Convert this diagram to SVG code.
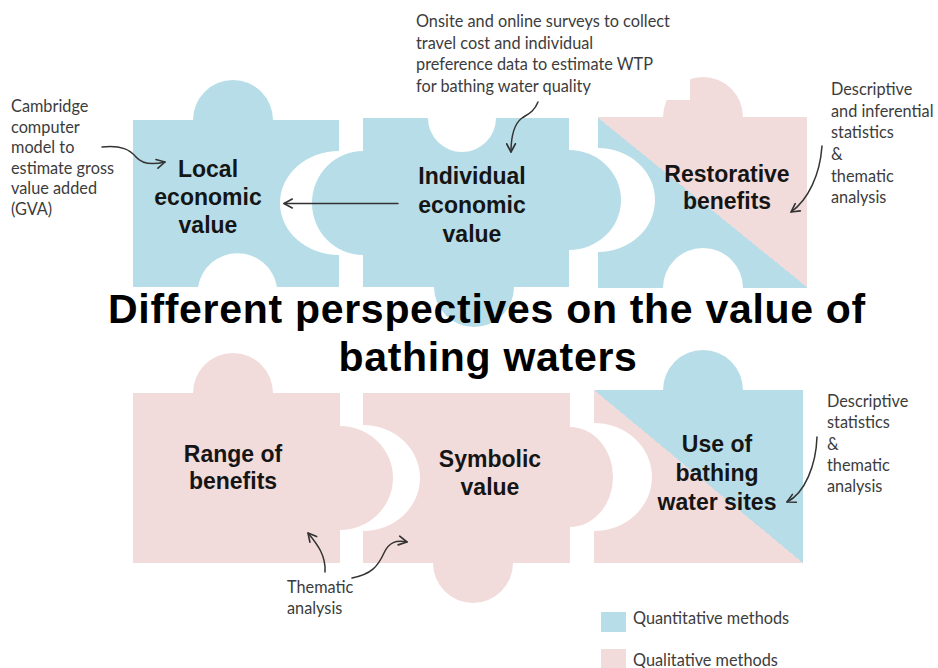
<svg xmlns="http://www.w3.org/2000/svg" width="938" height="668" viewBox="0 0 938 668">
  <style>
    .quant { fill: #b7dee8; }
    .qual { fill: #f2dcdb; }
    .label { font-family: "Liberation Sans", Arial, sans-serif; font-weight: bold; font-size: 23px; fill: #151515; text-anchor: middle; }
    .title { font-family: "Liberation Sans", Arial, sans-serif; font-weight: bold; font-size: 41px; fill: #000; text-anchor: middle; letter-spacing: 0.7px; }
    .note { font-family: Lato, "Open Sans", sans-serif; font-size: 16.3px; fill: #3c3c3c; }
    .arrow { fill: none; stroke: #333; stroke-width: 1.5; stroke-linecap: round; marker-end: url(#chevron); }
  </style>
  <defs>
    <marker id="chevron" viewBox="0 0 10 10" refX="9" refY="5" markerWidth="11" markerHeight="11" markerUnits="userSpaceOnUse" orient="auto">
      <path d="M1.5,1 L9,5 L1.5,9" fill="none" stroke="#333" stroke-width="1.5" stroke-linecap="round" stroke-linejoin="round"/>
    </marker>
    <!-- hard-edged split along the diagonal of the two mixed pieces -->
    <linearGradient id="splitRestorative" gradientUnits="userSpaceOnUse" x1="617" y1="308" x2="788" y2="97">
      <stop offset="0" stop-color="#b7dee8"/>
      <stop offset="0.5" stop-color="#b7dee8"/>
      <stop offset="0.5" stop-color="#f2dcdb"/>
      <stop offset="1" stop-color="#f2dcdb"/>
    </linearGradient>
    <linearGradient id="splitUse" gradientUnits="userSpaceOnUse" x1="612" y1="581" x2="785" y2="372">
      <stop offset="0" stop-color="#f2dcdb"/>
      <stop offset="0.5" stop-color="#f2dcdb"/>
      <stop offset="0.5" stop-color="#b7dee8"/>
      <stop offset="1" stop-color="#b7dee8"/>
    </linearGradient>
  </defs>

  <rect width="938" height="668" fill="#fff"/>

  <!-- top row of puzzle pieces -->
  <g id="local-economic-value">
    <path class="quant" d="M133,120 H193 A40,40 0 1 1 273,120 H339 V151 A59,52 0 0 0 339,255 V287 H277 A40,40 0 0 0 198,287 H133 Z"/>
    <text class="label"><tspan x="208" y="177">Local</tspan><tspan x="208" y="205">economic</tspan><tspan x="208" y="233">value</tspan></text>
  </g>

  <g id="individual-economic-value">
    <path class="quant" d="M363,118 H428 A34,34 0 0 0 496,118 H569 V150 A52,50 0 0 1 569,250 V287 H514 A40,40 0 0 1 434,287 H363 V255 A51,52 0 0 1 363,151 Z"/>
    <text class="label"><tspan x="472" y="184">Individual</tspan><tspan x="472" y="213">economic</tspan><tspan x="472" y="242">value</tspan></text>
  </g>

  <g id="restorative-benefits">
    <path fill="url(#splitRestorative)" d="M598,117 H663 A40,40 0 1 1 743,117 H807 V288 H743 A40,40 0 0 0 663,288 H598 V252 A57,52 0 0 0 598,148 Z"/>
    <text class="label"><tspan x="727" y="182">Restorative</tspan><tspan x="727" y="209">benefits</tspan></text>
  </g>

  <!-- bottom row of puzzle pieces -->
  <g id="range-of-benefits">
    <path class="qual" d="M133,393 H193 A40,40 0 1 1 273,393 H340 V426 A53,52 0 0 1 340,530 V563 H133 Z"/>
    <text class="label"><tspan x="233" y="462">Range of</tspan><tspan x="233" y="489">benefits</tspan></text>
  </g>

  <g id="symbolic-value">
    <path class="qual" d="M363,393 H570 V427 A43,50 0 0 1 570,527 V563 H513 A40,40 0 1 1 433,563 H363 V531 A57,53 0 0 0 363,425 Z"/>
    <text class="label"><tspan x="490" y="467">Symbolic</tspan><tspan x="490" y="495">value</tspan></text>
  </g>

  <g id="use-of-bathing-water-sites">
    <path fill="url(#splitUse)" d="M594,390 H663 A40,40 0 1 1 743,390 H803 V563 H594 V531 A58,54 0 0 0 594,423 Z"/>
    <text class="label"><tspan x="717" y="452">Use of</tspan><tspan x="717" y="481">bathing</tspan><tspan x="717" y="510">water sites</tspan></text>
  </g>

  <!-- heading across the middle -->
  <g id="title">
    <text class="title"><tspan x="487" y="323">Different perspectives on the value of</tspan><tspan x="488" y="371">bathing waters</tspan></text>
  </g>

  <!-- method notes -->
  <g id="note-gva">
    <text class="note"><tspan x="11" y="112">Cambridge</tspan><tspan x="11" y="133">computer</tspan><tspan x="11" y="153">model to</tspan><tspan x="11" y="174">estimate gross</tspan><tspan x="11" y="194">value added</tspan><tspan x="11" y="215">(GVA)</tspan></text>
  </g>

  <g id="note-surveys">
    <rect x="405" y="0" width="285" height="100" fill="#fff"/>
    <text class="note"><tspan x="416" y="27">Onsite and online surveys to collect</tspan><tspan x="416" y="48.5">travel cost and individual</tspan><tspan x="416" y="70">preference data to estimate WTP</tspan><tspan x="416" y="91.5">for bathing water quality</tspan></text>
  </g>

  <g id="note-restorative">
    <text class="note"><tspan x="831" y="95">Descriptive</tspan><tspan x="831" y="117">and inferential</tspan><tspan x="831" y="138">statistics</tspan><tspan x="831" y="160">&amp;</tspan><tspan x="831" y="182">thematic</tspan><tspan x="831" y="203">analysis</tspan></text>
  </g>

  <g id="note-use">
    <text class="note"><tspan x="827" y="407">Descriptive</tspan><tspan x="827" y="428">statistics</tspan><tspan x="827" y="450">&amp;</tspan><tspan x="827" y="471">thematic</tspan><tspan x="827" y="492">analysis</tspan></text>
  </g>

  <g id="note-thematic">
    <text class="note"><tspan x="287" y="593">Thematic</tspan><tspan x="287" y="614">analysis</tspan></text>
  </g>

  <!-- connectors -->
  <g id="connectors">
    <path class="arrow" d="M102,147 C122,145 130,150 136,157 C142,164 152,165 165,162"/>
    <path class="arrow" d="M398,203.5 L284,203.5"/>
    <path class="arrow" d="M538,102 C534,112 528,114 522,118 C514,124 511,135 511,152"/>
    <path class="arrow" d="M822,146 C820,175 808,200 791,212"/>
    <path class="arrow" d="M817,437 C816,465 805,493 787,502"/>
    <path class="arrow" d="M325,572 C326,556 318,545 308,533"/>
    <path class="arrow" d="M352,578 C372,574 378,566 384,553 C389,542 396,540 407,542"/>
  </g>

  <!-- legend -->
  <g id="legend">
    <rect class="quant" x="601" y="612" width="25" height="20"/>
    <text class="note" x="633" y="624">Quantitative methods</text>
    <rect class="qual" x="601" y="649" width="25" height="20"/>
    <text class="note" x="633" y="666">Qualitative methods</text>
  </g>
</svg>
